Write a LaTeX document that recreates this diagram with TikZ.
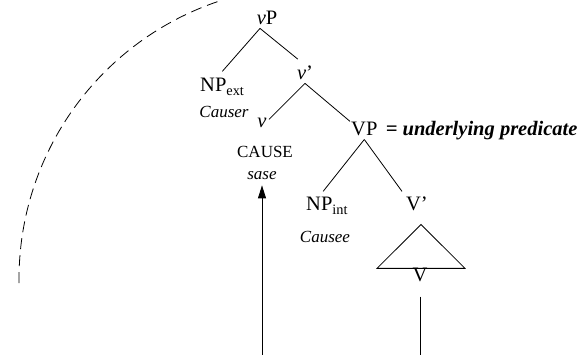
\documentclass[tikz,border=0pt]{standalone}
\usepackage{fontspec}
\setmainfont{Liberation Serif}
\usetikzlibrary{positioning,arrows.meta}

\begin{document}
\begin{tikzpicture}[%
    x=1pt, y=1pt,
    cat/.style={%
        inner sep=3pt,
        anchor=base,
        font=\fontsize{20.5}{24}\selectfont
    },
    gloss/.style={%
        inner sep=1pt,
        anchor=base,
        font=\fontsize{17}{20}\selectfont\itshape
    },
    feat/.style={%
        inner sep=1pt,
        anchor=base,
        font=\fontsize{17}{20}\selectfont
    },
    branch/.style={%
        line width=0.8pt
    },
    >=stealth
]
\useasboundingbox (0,0) rectangle (583,355);

% Dashed boundary
\draw[line width=0.8pt, dash pattern=on 11pt off 6pt]
    (312,76) ++(180.8:293) arc[start angle=180.8, end angle=107.7, radius=293];

% vP and its daughters
\node[cat] (vP) at (267,330) {\textit{v}P};
\node[cat, anchor=base west] (NPext) at (197,263) {NP\textsubscript{ext}};
\node[gloss] (causer) at (224,237) {Causer};
\node[cat] (vbar) at (305,275) {\textit{v}’};

% Head v
\node[cat] (vhead) at (262,227) {\textit{v}};
\node[feat] (cause) at (265,197) {CAUSE};
\node[gloss] (sase) at (262,175) {sase};

% VP = underlying predicate
\node[cat, anchor=base west] (VP) at (348,219) {VP};
\node[cat, anchor=base west, inner sep=0pt, base right=5pt of VP] (predNote)
    {\textbf{\textit{= underlying predicate}}};

% Inner arguments
\node[cat, anchor=base west] (NPint) at (303,144) {NP\textsubscript{int}};
\node[gloss] (causee) at (325,112) {Causee};
\node[cat] (Vbar) at (417,144) {V’};
\node[cat, inner sep=0pt] (Vlex) at (420,73) {V};

% Feet of the vertical lines
\coordinate (causeFoot) at (262,0);
\coordinate (vFoot) at (420,0);

% Branches
\draw[branch] ([xshift=-7pt]vP.south) -- ([yshift=4pt]NPext.north);
\draw[branch] ([xshift=-7pt]vP.south) -- ([xshift=4pt,yshift=4pt]vbar.north west);
\draw[branch] (vbar.south) -- ([xshift=7pt,yshift=-4pt]vhead.north);
\draw[branch] (vbar.south) -- ([xshift=2pt,yshift=-2pt]VP.north west);
\draw[branch] (VP.south) -- ([xshift=-4pt,yshift=3pt]NPint.north);
\draw[branch] (VP.south) -- ([xshift=-15pt,yshift=3pt]NPint.north -| Vbar.north);

% Triangle over V
\draw[branch] ([xshift=-43pt]Vlex.north) -- ([xshift=45pt]Vlex.north)
    -- ([xshift=4pt,yshift=-10pt]Vbar.south) -- cycle;

% Vertical lines
\draw[branch, -{Triangle[width=8pt,length=13pt]}, shorten >=4pt] (causeFoot) -- (sase);
\draw[branch, shorten <=14pt] (Vlex.south) -- (vFoot);

\end{tikzpicture}
\end{document}
